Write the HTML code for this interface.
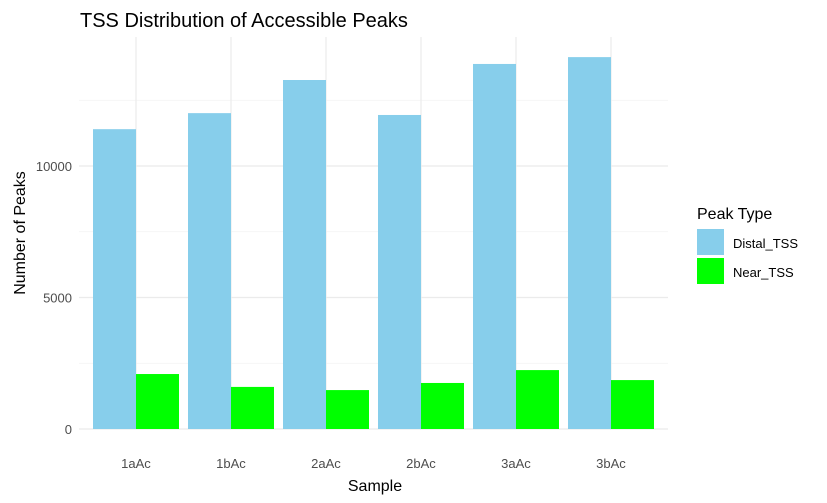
<!DOCTYPE html>
<html><head><meta charset="utf-8"><style>
body{margin:0;background:#fff;}
svg{display:block;font-family:"Liberation Sans",Arial,sans-serif;}
</style></head><body>
<svg id="chart" width="827" height="503">
<text x="80" y="27" font-size="20" fill="#000">TSS Distribution of Accessible Peaks</text>
<g id="grid"></g>
<g id="bars"></g>
<g id="axes"></g>
<text x="375" y="491" font-size="16" text-anchor="middle" fill="#000">Sample</text>
<text transform="translate(25,233) rotate(-90)" font-size="16" text-anchor="middle" fill="#000">Number of Peaks</text>
<g>
<text x="697" y="219" font-size="16" fill="#000">Peak Type</text>
<g><rect x="697" y="229" width="27" height="26" fill="#87CEEB"/><text x="733" y="248" font-size="13" fill="#000">Distal_TSS</text></g>
<g><rect x="697" y="258" width="27" height="26" fill="#00FF00"/><text x="733" y="277" font-size="13" fill="#000">Near_TSS</text></g>
</g>
</svg>
<script>
const categories=["1aAc","1bAc","2aAc","2bAc","3aAc","3bAc"];
const distalValues=[11400,12010,13270,11940,13880,14140];
const nearValues=[2090,1600,1480,1750,2240,1860];
const yTicks=[0,5000,10000];
const yMinor=[2500,7500,12500];
const NS="http://www.w3.org/2000/svg";
const y0=429,pxPer=131.5/5000;
const yScale=v=>y0-v*pxPer;
const step=95,first=136;
const xScale=i=>first+i*step;
const plotLeft=79,plotRight=668,plotTop=37;
const gridG=document.getElementById('grid'),barsG=document.getElementById('bars'),axesG=document.getElementById('axes');
function mk(tag,attrs,parent){const e=document.createElementNS(NS,tag);for(const k in attrs)e.setAttribute(k,attrs[k]);parent.appendChild(e);return e;}
yMinor.forEach(v=>{const l=mk('line',{x1:plotLeft,x2:plotRight,y1:yScale(v),y2:yScale(v),stroke:'#f2f2f2','stroke-width':0.8},gridG);

});
yTicks.forEach(v=>{const l=mk('line',{x1:plotLeft,x2:plotRight,y1:yScale(v),y2:yScale(v),stroke:'#ebebeb','stroke-width':1.2},gridG);


const t=mk('text',{x:72,y:yScale(v)+5,'font-size':13,fill:'#4d4d4d','text-anchor':'end'},axesG);t.textContent=v;

});
categories.forEach((c,i)=>{const x=xScale(i);
const l=mk('line',{x1:x,x2:x,y1:plotTop,y2:y0,stroke:'#ebebeb','stroke-width':1.2},gridG);


const bw=43;
const d=mk('rect',{x:x-bw,y:yScale(distalValues[i]),width:bw,height:y0-yScale(distalValues[i]),fill:'#87CEEB'},barsG);


const n=mk('rect',{x:x,y:yScale(nearValues[i]),width:bw,height:y0-yScale(nearValues[i]),fill:'#00FF00'},barsG);


const t=mk('text',{x:x,y:468,'font-size':13,fill:'#4d4d4d','text-anchor':'middle'},axesG);t.textContent=c;

});
</script>
</body></html>
